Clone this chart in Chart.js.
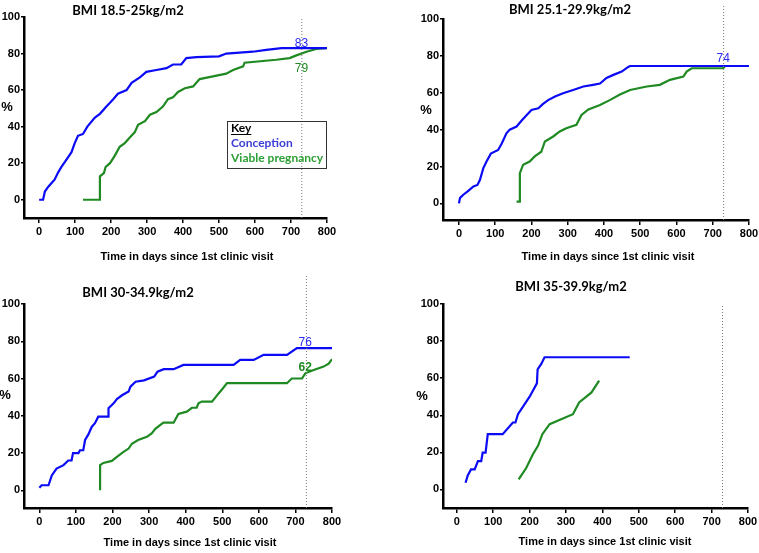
<!DOCTYPE html>
<html>
<head>
<meta charset="utf-8">
<script src="https://cdn.jsdelivr.net/npm/chart.js@4"></script>
<style>
  body { margin: 0; background: #fff; width: 759px; height: 553px; position: relative; overflow: hidden; }
  canvas { position: absolute; }
</style>
</head>
<body>
<canvas id="c1" width="380" height="270" style="left:0;top:0"></canvas>
<canvas id="c2" width="379" height="270" style="left:380px;top:0"></canvas>
<canvas id="c3" width="380" height="283" style="left:0;top:270px"></canvas>
<canvas id="c4" width="379" height="283" style="left:380px;top:270px"></canvas>
<script>
// ticks
const xTicks = [0, 100, 200, 300, 400, 500, 600, 700, 800];
const yTicks = [0, 20, 40, 60, 80, 100];
const xTitleText = 'Time in days since 1st clinic visit';
const cutoffDay = 730;

// BMI 18.5-25
const p1ConceptionDays = [0, 11, 16, 25, 34, 43, 53, 62, 76, 90, 99, 108, 122, 134, 155, 169, 187, 206, 219, 243, 257, 280, 298, 326, 354, 372, 395, 409, 437, 500, 520, 594, 631, 674, 800];
const p1ConceptionPct = [0, 0, 4.5, 7, 9, 11, 15, 18, 22, 26, 31, 35, 36, 40, 45, 47, 51, 55, 58, 60, 64, 67, 70, 71, 72, 74, 74, 77.5, 78, 78.5, 80, 81, 82, 83, 83];
const p1ViableDays = [122, 169, 169, 180, 185, 197, 210, 224, 238, 252, 266, 275, 294, 308, 326, 344, 358, 372, 386, 405, 428, 446, 483, 520, 539, 567, 571, 659, 696, 715, 743, 770, 798];
const p1ViablePct = [0, 0, 12.8, 14.6, 18, 20, 24, 29, 31, 34, 37, 41, 43, 46.5, 48, 51, 55, 56, 59, 61, 62, 66, 67.5, 69, 71, 73, 75, 76.6, 77.5, 79, 81, 82.5, 83];

// BMI 25.1-29.9
const p2ConceptionDays = [0, 3, 12, 24, 40, 51, 58, 67, 76, 88, 108, 118, 131, 140, 159, 173, 187, 200, 219, 232, 246, 265, 287, 315, 343, 370, 389, 407, 426, 449, 467, 472, 800];
const p2ConceptionPct = [0, 3, 4.7, 6.5, 9.2, 10, 12.8, 19, 22.7, 27, 29, 32.5, 38, 40, 41.7, 45, 48, 50.7, 51.6, 54, 56, 58, 59.7, 61.5, 63.4, 64.3, 65, 68, 69.7, 71.5, 74, 74.5, 74.5];
const p2ViableDays = [159, 168, 168, 177, 195, 209, 227, 237, 260, 278, 296, 324, 338, 357, 389, 416, 444, 472, 518, 554, 582, 619, 628, 642, 729, 734];
const p2ViablePct = [1, 1, 16.4, 21, 22.7, 25.5, 28, 33.6, 36.3, 39, 40.8, 42.6, 48, 51, 53.4, 56, 59, 61.5, 63.4, 64.3, 67, 68.8, 71.5, 73.3, 73.3, 74.5];

// BMI 30-34.9
const p3ConceptionDays = [0, 6, 25, 34, 47, 66, 79, 88, 92, 107, 111, 120, 125, 134, 143, 152, 161, 189, 189, 203, 212, 226, 244, 249, 263, 286, 314, 323, 340, 367, 394, 531, 549, 586, 613, 677, 704, 800];
const p3ConceptionPct = [1.4, 2.7, 2.7, 8, 11.7, 13.5, 16, 16, 20, 20, 21.5, 21.5, 27, 30, 34, 36, 39.5, 39.5, 44, 46.7, 49, 51, 53, 55.6, 58.3, 59, 61, 63.7, 65, 65, 67.3, 67.3, 70, 70, 72.7, 72.7, 76.3, 76.3];
const p3ViableDays = [166, 166, 175, 198, 212, 230, 244, 253, 270, 294, 307, 317, 330, 339, 367, 380, 403, 417, 430, 435, 444, 472, 490, 502, 513, 677, 690, 718, 727, 750, 777, 791, 800];
const p3ViablePct = [0, 13.5, 14.7, 15.8, 18, 20.6, 22.4, 25, 27, 28.7, 30.5, 33, 35, 36.3, 36.3, 41, 42.2, 44.3, 44.3, 46.7, 47.6, 47.6, 52, 54.8, 57.5, 57.5, 60, 60, 62.8, 64.6, 66.4, 68, 70.4];

// BMI 35-39.9
const p4ConceptionDays = [24, 30, 39, 49, 58, 67, 71, 79, 85, 126, 154, 161, 168, 200, 220, 222, 232, 241, 475];
const p4ConceptionPct = [3.6, 7.6, 10.8, 10.8, 15.3, 15.3, 19.9, 19.9, 29.8, 29.8, 36.1, 36.1, 40.6, 50, 57.2, 64.8, 67.7, 71.3, 71.3];
const p4ViableDays = [170, 191, 209, 223, 235, 255, 319, 336, 370, 391];
const p4ViablePct = [5.4, 11.7, 19, 23.5, 29.8, 35.2, 40.6, 46.9, 52.3, 58.7];

const BLUE = '#0b0bf5';
const GREEN = '#1f8a22';
const tickFont = { family: '"Liberation Sans", Arial', weight: 'bold', size: 11 };

function pts(days, pct) {
  return days.map((d, i) => ({ x: d, y: pct[i] }));
}

const panelText = {
  id: 'panelText',
  afterDraw(chart, args, o) {
    const c = chart.ctx;
    const xs = chart.scales.x, ys = chart.scales.y;
    c.save();
    c.textAlign = 'center';
    c.textBaseline = 'middle';
    c.fillStyle = '#000';
    c.font = 'bold 13px Lato';
    c.fillText(o.title, o.titleX, o.titleY);
    c.font = 'bold 11px "Liberation Sans", Arial';
    c.fillText(xTitleText, o.xTitleX, o.xTitleY);
    c.font = 'bold 13px "Liberation Sans", Arial';
    c.fillText('%', o.pctX, o.pctY);
    o.labels.forEach(l => {
      c.font = l.font;
      c.fillStyle = l.color;
      c.fillText(l.text, xs.getPixelForValue(l.x), ys.getPixelForValue(l.y));
    });
    if (o.key) {
      c.strokeStyle = '#333';
      c.lineWidth = 1;
      c.strokeRect(227.5, 121.5, 99, 47);
      c.textAlign = 'left';
      c.font = 'bold 12px Lato';
      c.fillStyle = '#000';
      c.fillText('Key', 231, 128);
      const w = c.measureText('Key').width;
      c.beginPath();
      c.moveTo(231, 134.5);
      c.lineTo(231 + w, 134.5);
      c.strokeStyle = '#000';
      c.stroke();
      c.fillStyle = '#3c3cd6';
      c.fillText('Conception', 231, 143);
      c.fillStyle = '#2ca035';
      c.fillText('Viable pregnancy', 231, 158);
    }
    c.restore();
  }
};

function makePanel(id, p) {
  new Chart(document.getElementById(id), {
    type: 'line',
    data: {
      datasets: [
        {
          data: [{ x: cutoffDay, y: p.yMin }, { x: cutoffDay, y: p.vTop }],
          borderColor: '#777',
          borderWidth: 1,
          borderDash: [1, 2],
          pointRadius: 0,
          clip: false
        },
        {
          data: pts(p.cDays, p.cPct),
          borderColor: BLUE,
          borderWidth: 2.2,
          pointRadius: 0,
          tension: 0
        },
        {
          data: pts(p.vDays, p.vPct),
          borderColor: GREEN,
          borderWidth: 2.2,
          pointRadius: 0,
          tension: 0
        }
      ]
    },
    options: {
      responsive: false,
      devicePixelRatio: 1,
      animation: false,
      layout: { padding: { left: 0, right: p.padRight, top: p.padTop, bottom: 0 } },
      plugins: {
        legend: { display: false },
        tooltip: { enabled: false },
        panelText: p.text
      },
      scales: {
        x: {
          type: 'linear',
          min: p.xMin,
          max: 800,
          afterBuildTicks: s => { s.ticks = xTicks.map(v => ({ value: v })); },
          afterFit: s => { s.height = p.xHeight; s.paddingLeft = 0; s.paddingRight = 0; },
          ticks: { font: tickFont, color: '#000', padding: 2, maxRotation: 0, autoSkip: false },
          grid: { drawOnChartArea: false, drawTicks: true, tickLength: 5, color: '#000', lineWidth: 1.5 },
          border: { display: true, color: '#000', width: 2.5 }
        },
        y: {
          min: p.yMin,
          max: 100,
          afterBuildTicks: s => { s.ticks = yTicks.map(v => ({ value: v })); },
          afterFit: s => { s.width = p.yWidth; s.paddingTop = 0; s.paddingBottom = 0; },
          ticks: { font: tickFont, color: '#000', padding: 1 },
          grid: { drawOnChartArea: false, drawTicks: true, tickLength: 3, color: '#000', lineWidth: 1.5 },
          border: { display: true, color: '#000', width: 2.5 }
        }
      }
    },
    plugins: [panelText]
  });
}

const numFont = '12px "Liberation Sans", Arial';
const numFontBold = 'bold 12px "Liberation Sans", Arial';

makePanel('c1', {
  cDays: p1ConceptionDays, cPct: p1ConceptionPct, vDays: p1ViableDays, vPct: p1ViablePct,
  xMin: -42, yMin: -10, vTop: 100, yWidth: 24, padRight: 53, padTop: 17, xHeight: 52,
  text: {
    title: 'BMI 18.5-25kg/m2', titleX: 128, titleY: 11, xTitleX: 187, xTitleY: 257, pctX: 7, pctY: 107, key: true,
    labels: [
      { text: '83', x: 729, y: 85.6, color: '#2a2af0', font: numFont },
      { text: '79', x: 729, y: 71.6, color: GREEN, font: numFont }
    ]
  }
});

makePanel('c2', {
  cDays: p2ConceptionDays, cPct: p2ConceptionPct, vDays: p2ViableDays, vPct: p2ViablePct,
  xMin: -44, yMin: -9, vTop: 107, yWidth: 63, padRight: 10, padTop: 19, xHeight: 50,
  text: {
    title: 'BMI 25.1-29.9kg/m2', titleX: 190, titleY: 10, xTitleX: 228, xTitleY: 257, pctX: 46, pctY: 110, key: false,
    labels: [
      { text: '74', x: 729, y: 78.5, color: '#2a2af0', font: numFont }
    ]
  }
});

makePanel('c3', {
  cDays: p3ConceptionDays, cPct: p3ConceptionPct, vDays: p3ViableDays, vPct: p3ViablePct,
  xMin: -42, yMin: -9.5, vTop: 115, yWidth: 24, padRight: 48, padTop: 34, xHeight: 45,
  text: {
    title: 'BMI 30-34.9kg/m2', titleX: 138, titleY: 23, xTitleX: 190, xTitleY: 273, pctX: 5, pctY: 125, key: false,
    labels: [
      { text: '76', x: 727, y: 79.3, color: '#2a2af0', font: numFont },
      { text: '62', x: 727, y: 65.9, color: GREEN, font: numFontBold }
    ]
  }
});

makePanel('c4', {
  cDays: p4ConceptionDays, cPct: p4ConceptionPct, vDays: p4ViableDays, vPct: p4ViablePct,
  xMin: -38, yMin: -10, vTop: 100, yWidth: 63, padRight: 11, padTop: 34, xHeight: 45,
  text: {
    title: 'BMI 35-39.9kg/m2', titleX: 191, titleY: 17, xTitleX: 225, xTitleY: 272, pctX: 42, pctY: 126, key: false,
    labels: []
  }
});
</script>
</body>
</html>
